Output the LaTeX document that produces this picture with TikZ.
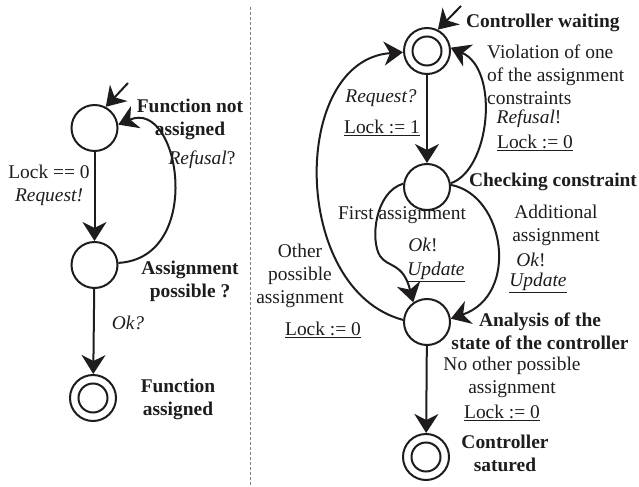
\documentclass[tikz,border=0pt]{standalone}
\usepackage{fontspec}
\setmainfont{Liberation Serif}
\usetikzlibrary{arrows.meta}
\definecolor{ink}{RGB}{30,28,28}
\tikzset{
  state/.style={circle, draw=ink, line width=2bp, minimum size=46bp, inner sep=0pt},
  accept/.style={state, path picture={\draw[ink, line width=2bp] (path picture bounding box.center) circle[radius=14.5bp];}},
  conn/.style={draw=ink, line width=2bp, -{Stealth[length=19bp, width=24bp, inset=6bp]}},
  lbl/.style={text=ink, inner sep=0pt, align=center, font=\fontsize{19.5}{23}\selectfont},
  blbl/.style={lbl, font=\fontsize{19.5}{23}\selectfont\bfseries},
}
\begin{document}
\begin{tikzpicture}[x=1bp, y=-1bp]
\useasboundingbox (0,0) rectangle (639,487);
% separator
\draw[gray, line width=0.8bp, dash pattern=on 3bp off 2bp] (250,7) coordinate (sepT) -- (250,487) coordinate (sepB);

% ---------- left automaton ----------
\node[state] (L1) at (94.5,128) {};
\node[state] (L2) at (94.5,265) {};
\node[accept] (L3) at (93,398) {};
\coordinate (iL) at (128,83);
\draw[conn] (iL) -- (L1.62);
\draw[conn] (L1) -- (L2);
\draw[conn] (L2) -- (L3);
\draw[conn] (L2.5) .. controls (205,258) and (180,98) .. (L1.8);

\node[blbl] (tL1) at (190,119) {Function not\\assigned};
\node[lbl] (tL12) at (49,185) {Lock == 0\\\textit{Request!}};
\node[lbl] (tRefL) at (202,160) {\textit{Refusal}?};
\node[blbl] (tL2) at (190,281) {Assignment\\possible ?};
\node[lbl] (tOkL) at (128,323) {\textit{Ok?}};
\node[blbl] (tL3) at (178,399) {Function\\assigned};

% ---------- right automaton ----------
\node[accept] (R1) at (427,51) {};
\node[state] (R2) at (427,187) {};
\node[state] (R3) at (427,322) {};
\node[accept] (R4) at (426,457) {};
\coordinate (iR) at (461,6);
\draw[conn] (iR) -- (R1.63);
\draw[conn] (R1) -- (R2);
\draw[conn] (R3) -- (R4);
% refusal back to waiting
\draw[conn] (R2.9) .. controls (490,170) and (500,70) .. (R1.8);
% other possible assignment
\draw[conn] (R3.175) .. controls (290,290) and (290,60) .. (R1.183);
% first assignment
\draw[conn] (R2.172) .. controls (375,192) and (370,240) .. (380,256)
  .. controls (388,268) and (403,262) .. (R3.125);
% additional assignment
\draw[conn] (R2.5) .. controls (505,195) and (520,295) .. (R3.8);

\node[blbl, anchor=west] (tR1) at (466,23) {Controller waiting};
\node[lbl, anchor=west, align=left] (tViol) at (487,75) {Violation of one\\of the assignment\\constraints};
\node[lbl] (tRefR) at (529,119) {\textit{Refusal}!};
\node[lbl] (tLk0a) at (535,143) {\underline{Lock := 0}};
\node[lbl] (tReq) at (381,98) {\textit{Request?}};
\node[lbl] (tLk1) at (382,128) {\underline{Lock := 1}};
\node[blbl] (tR2) at (553,182) {Checking constraint};
\node[lbl] (tFirst) at (402,215) {First assignment};
\node[lbl] (tOk1) at (423,245) {\textit{Ok}!};
\node[lbl] (tUp1) at (436,272) {\underline{\textit{Update}}};
\node[lbl] (tAdd) at (556,225) {Additional\\assignment};
\node[lbl] (tOk2) at (531,260) {\textit{Ok}!};
\node[lbl] (tUp2) at (538,283) {\underline{\textit{Update}}};
\node[lbl] (tOther) at (300,275.5) {Other\\possible\\assignment};
\node[lbl] (tLk0b) at (323,330) {\underline{Lock := 0}};
\node[blbl] (tR3) at (540,331.5) {Analysis of the\\state of the controller};
\node[lbl] (tNo) at (512,377.5) {No other possible\\assignment};
\node[lbl] (tLk0c) at (502,413) {\underline{Lock := 0}};
\node[blbl] (tR4) at (505,453.5) {Controller\\satured};
\end{tikzpicture}
\end{document}
